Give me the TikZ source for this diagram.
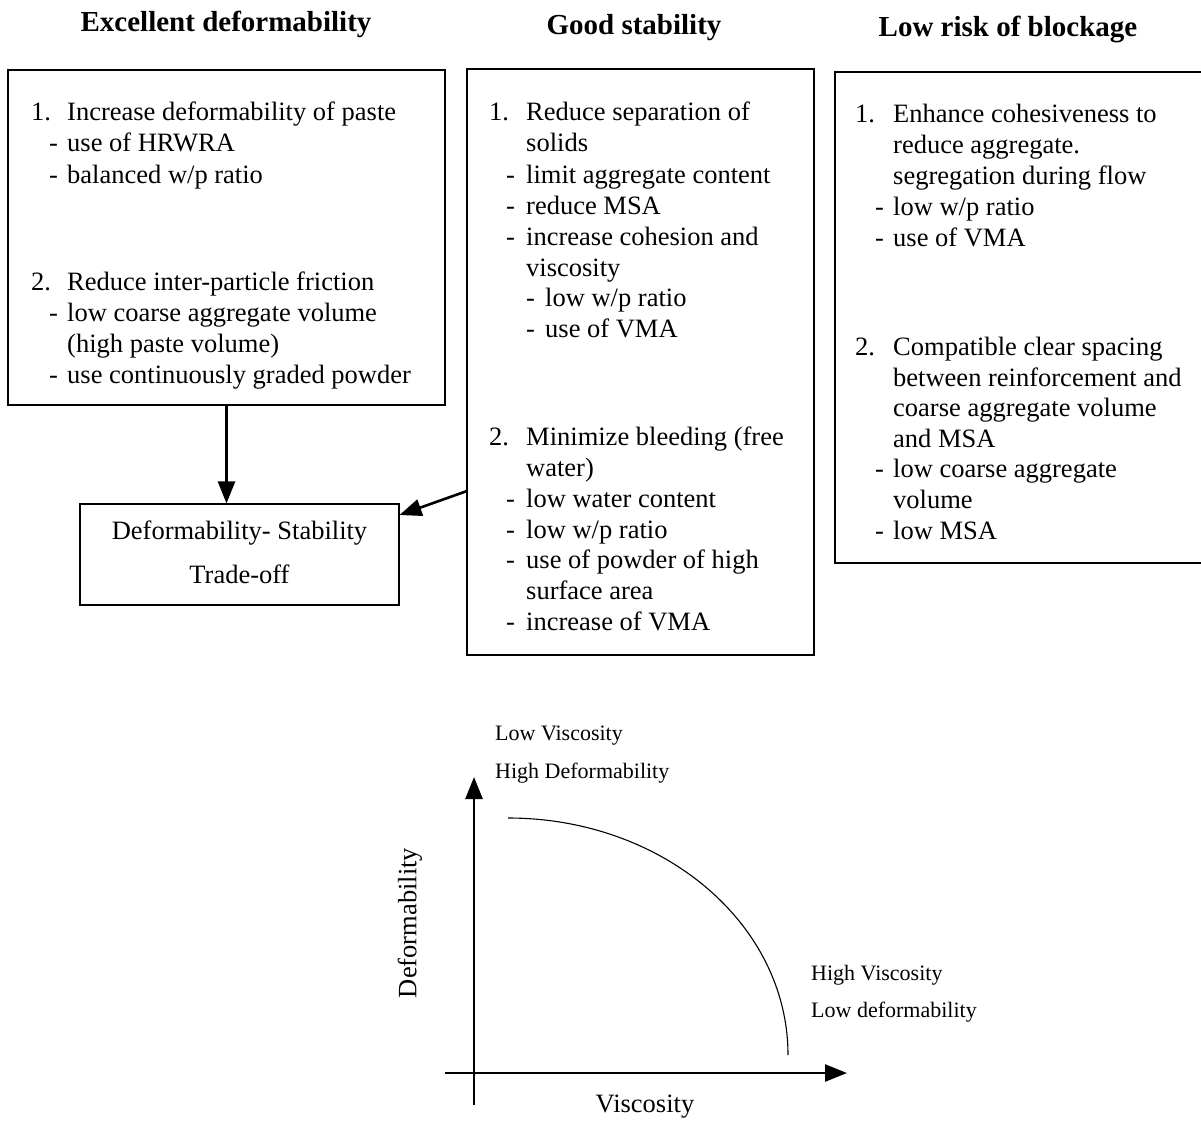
\documentclass[tikz,border=0pt]{standalone}
\usepackage{fontspec}
\setmainfont{Liberation Serif}
\usetikzlibrary{arrows.meta,calc}
\tikzset{
  body/.style={anchor=base west, inner sep=0pt, font=\fontsize{26.5}{30.7}\selectfont},
  head/.style={anchor=base, inner sep=0pt, font=\fontsize{29}{33}\selectfont\bfseries},
  small/.style={anchor=base west, inner sep=0pt, font=\fontsize{22}{26}\selectfont},
  boxst/.style={draw, line width=1.6pt, inner sep=0pt},
  arr/.style={line width=2.6pt, -{Triangle[length=22pt,width=17pt]}},
  axis/.style={line width=2.6pt, -{Triangle[length=22pt,width=17pt]}},
}
\begin{document}
\begin{tikzpicture}[x=1pt,y=-1pt]
\useasboundingbox (0,0) rectangle (1201,1126);

% headings
\node[head] (h1) at (226,32) {Excellent deformability};
\node[head] (h2) at (634,35) {Good stability};
\node[head] (h3) at (1008,37) {Low risk of blockage};

% boxes
\node[boxst, minimum width=437pt, minimum height=335pt] (box1) at (226.5,237.5) {};
\node[boxst, minimum width=347pt, minimum height=586pt] (box2) at (640.5,362) {};
\node[boxst, minimum width=380pt, minimum height=491pt] (box3) at (1025,317.5) {};
\node[draw, line width=1.1pt, inner sep=0pt, minimum width=319pt, minimum height=101pt] (trade) at (239.5,554.5) {};
\node[body, anchor=base] (t1) at (239.5,539) {Deformability- Stability};
\node[body, anchor=base] (t2) at (239.5,583) {Trade-off};

% box 1 text
\node[body] (a1n) at (31,121) {1.};
\node[body] (a1) at (67,121) {Increase deformability of paste};
\node[body] (a2d) at (49,152) {-};
\node[body] (a2) at (67,152) {use of HRWRA};
\node[body] (a3d) at (49,183) {-};
\node[body] (a3) at (67,183) {balanced w/p ratio};
\node[body] (a4n) at (31,290) {2.};
\node[body] (a4) at (67,290) {Reduce inter-particle friction};
\node[body] (a5d) at (49,321) {-};
\node[body] (a5) at (67,321) {low coarse aggregate volume};
\node[body] (a6) at (67,352) {(high paste volume)};
\node[body] (a7d) at (49,383) {-};
\node[body] (a7) at (67,383) {use continuously graded powder};

% box 2 text
\node[body] (b1n) at (489,121) {1.};
\node[body] (b1) at (526,121) {Reduce separation of};
\node[body] (b2) at (526,152) {solids};
\node[body] (b3d) at (506,183) {-};
\node[body] (b3) at (526,183) {limit aggregate content};
\node[body] (b4d) at (506,214) {-};
\node[body] (b4) at (526,214) {reduce MSA};
\node[body] (b5d) at (506,245) {-};
\node[body] (b5) at (526,245) {increase cohesion and};
\node[body] (b6) at (526,276) {viscosity};
\node[body] (b7d) at (526,306) {-};
\node[body] (b7) at (545,306) {low w/p ratio};
\node[body] (b8d) at (526,337) {-};
\node[body] (b8) at (545,337) {use of VMA};
\node[body] (b9n) at (489,445) {2.};
\node[body] (b9) at (526,445) {Minimize bleeding (free};
\node[body] (b10) at (526,476) {water)};
\node[body] (b11d) at (506,507) {-};
\node[body] (b11) at (526,507) {low water content};
\node[body] (b12d) at (506,538) {-};
\node[body] (b12) at (526,538) {low w/p ratio};
\node[body] (b13d) at (506,568) {-};
\node[body] (b13) at (526,568) {use of powder of high};
\node[body] (b14) at (526,599) {surface area};
\node[body] (b15d) at (506,630) {-};
\node[body] (b15) at (526,630) {increase of VMA};

% box 3 text
\node[body] (c1n) at (855,123) {1.};
\node[body] (c1) at (893,123) {Enhance cohesiveness to};
\node[body] (c2) at (893,154) {reduce aggregate.};
\node[body] (c3) at (893,185) {segregation during flow};
\node[body] (c4d) at (875,215) {-};
\node[body] (c4) at (893,215) {low w/p ratio};
\node[body] (c5d) at (875,246) {-};
\node[body] (c5) at (893,246) {use of VMA};
\node[body] (c6n) at (855,355) {2.};
\node[body] (c6) at (893,355) {Compatible clear spacing};
\node[body] (c7) at (893,386) {between reinforcement and};
\node[body] (c8) at (893,416) {coarse aggregate volume};
\node[body] (c9) at (893,447) {and MSA};
\node[body] (c10d) at (875,477) {-};
\node[body] (c10) at (893,477) {low coarse aggregate};
\node[body] (c11) at (893,508) {volume};
\node[body] (c12d) at (875,539) {-};
\node[body] (c12) at (893,539) {low MSA};

% connectors
\draw[arr] (box1.south) -- (box1.south |- trade.north);
\coordinate (s2) at (467,491);
\draw[arr] (s2) -- (trade.east |- 0,515);

% graph
\coordinate (yb) at (474,1105);
\coordinate (yt) at (474,777);
\coordinate (xl) at (445,1073);
\coordinate (xr) at (847,1073);
\draw[axis] (yb) -- (yt);
\draw[axis] (xl) -- (xr);
\draw[line width=1.1pt] (508,818) .. controls (663,818) and (788,924) .. (788,1055);
\node[small] (lv) at (495,740) {Low Viscosity};
\node[small] (hd) at (495,778) {High Deformability};
\node[small] (hv) at (811,980) {High Viscosity};
\node[small] (ld) at (811,1017) {Low deformability};
\node[body, anchor=base] (vx) at (645,1112) {Viscosity};
\node[body, anchor=center, rotate=90] (dy) at (410,923) {Deformability};
\end{tikzpicture}
\end{document}
